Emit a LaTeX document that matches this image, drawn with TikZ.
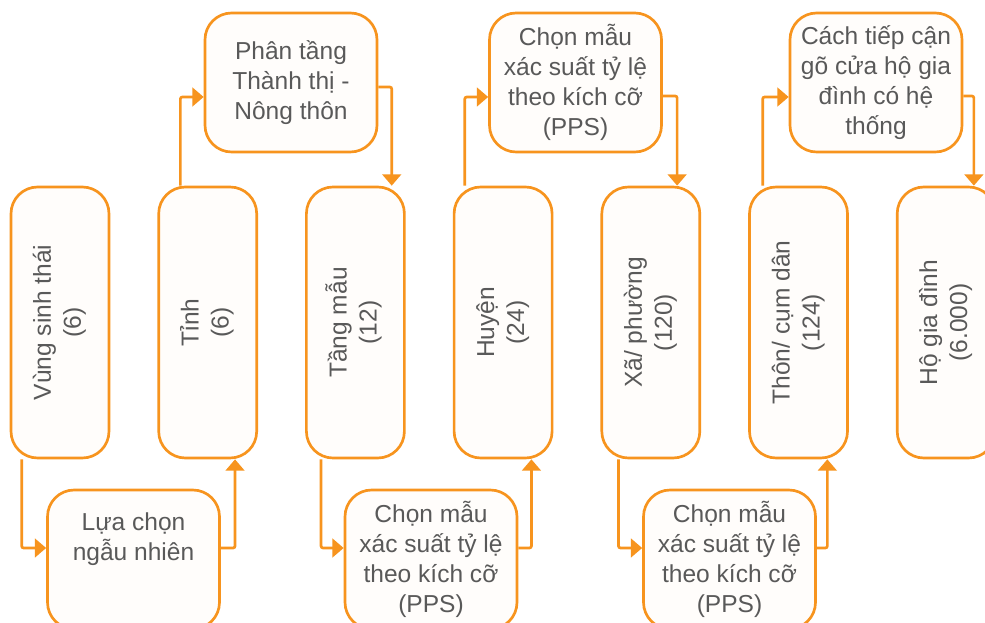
\documentclass[tikz,border=0pt]{standalone}
\usepackage{fontspec}
\setmainfont{Liberation Sans}
\usepackage{graphicx}
\usetikzlibrary{arrows.meta,calc}
\definecolor{orng}{RGB}{247,148,30}
\definecolor{txt}{RGB}{89,89,89}
\definecolor{boxfill}{RGB}{255,253,251}
\newcommand{\vtext}[1]{\rotatebox{90}{\begin{tabular}{@{}c@{}}#1\end{tabular}}}
\begin{document}
\begin{tikzpicture}[x=0.75pt,y=-0.75pt,
  box/.style={draw=orng, line width=2pt, fill=boxfill, rounded corners=20pt, text=txt,
    font=\fontsize{18.4pt}{22.5pt}\selectfont, align=center, inner sep=0pt},
  tall/.style={box, minimum width=73.5pt, minimum height=203.25pt},
  wide/.style={box, minimum width=129pt, minimum height=104.25pt},
  conn/.style={draw=orng, line width=2pt, -{Triangle[length=8.5pt,width=14pt]}, rounded corners=1.5pt}]
\useasboundingbox (0,0) rectangle (985,623);
\clip (0,0) rectangle (985,623);
\fill[white] (0,0) rectangle (985,623);
% tall boxes
\node[tall] (v1) at (60,322.5) {\vtext{Vùng sinh thái\\(6)}};
\node[tall] (v2) at (207.7,322.5) {\vtext{Tỉnh\\(6)}};
\node[tall] (v3) at (355.4,322.5) {\vtext{Tầng mẫu\\(12)}};
\node[tall] (v4) at (503.1,322.5) {\vtext{Huyện\\(24)}};
\node[tall] (v5) at (650.8,322.5) {\vtext{Xã/ phường\\(120)}};
\node[tall] (v6) at (798.5,322.5) {\vtext{Thôn/ cụm dân\\(124)}};
\node[tall] (v7) at (946.2,322.5) {\vtext{Hộ gia đình\\(6.000)}};
% top boxes
\node[wide] (A) at (291,82.5) {Phân tầng\\Thành thị -\\Nông thôn};
\node[wide] (B) at (575.5,82.5) {Chọn mẫu\\xác suất tỷ lệ\\theo kích cỡ\\(PPS)};
\node[wide] (C) at (876,82.5) {Cách tiếp cận\\gõ cửa hộ gia\\đình có hệ\\thống};
% bottom boxes
\node[wide] (D) at (133.5,559.5) {\raisebox{15pt}[\height][\depth]{\begin{tabular}{@{}c@{}}Lựa chọn\\ngẫu nhiên\end{tabular}}};
\node[wide] (E) at (431,559.5) {Chọn mẫu\\xác suất tỷ lệ\\theo kích cỡ\\(PPS)};
\node[wide] (F) at (729.5,559.5) {Chọn mẫu\\xác suất tỷ lệ\\theo kích cỡ\\(PPS)};
% connectors
\draw[conn] ($(v1.south west)+(12,0)$) |- ($(D.west)+(0,-11.5)$);
\draw[conn] ($(D.east)+(0,-11.5)$) -| ($(v2.south east)+(-23,0)$);
\draw[conn] ($(v2.north west)+(23,0)$) |- ($(A.west)+(0,14.5)$);
\draw[conn] ($(A.east)+(0,4.5)$) -| ($(v3.north east)+(-14,0)$);
\draw[conn] ($(v3.south west)+(16,0)$) |- ($(E.west)+(0,-11.5)$);
\draw[conn] ($(E.east)+(0,-11.5)$) -| ($(v4.south east)+(-22,0)$);
\draw[conn] ($(v4.north west)+(12,0)$) |- ($(B.west)+(0,14.5)$);
\draw[conn] ($(B.east)+(0,13.5)$) -| ($(v5.north east)+(-24,0)$);
\draw[conn] ($(v5.south west)+(18,0)$) |- ($(F.west)+(0,-11.5)$);
\draw[conn] ($(F.east)+(0,-11.5)$) -| ($(v6.south east)+(-21.5,0)$);
\draw[conn] ($(v6.north west)+(14.5,0)$) |- ($(C.west)+(0,14.5)$);
\draw[conn] ($(C.east)+(0,13.5)$) -| ($(v7.north west)+(78,0)$);
\end{tikzpicture}
\end{document}
